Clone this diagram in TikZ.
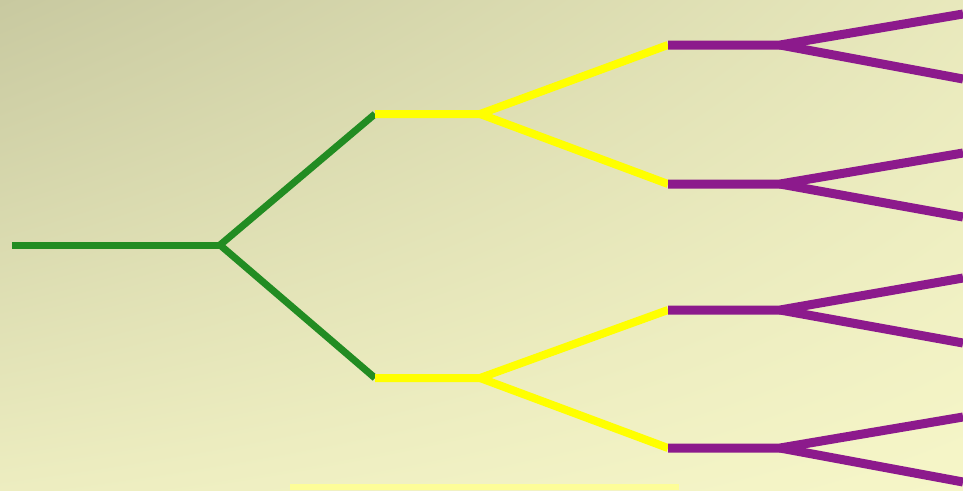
\documentclass[tikz,border=0pt]{standalone}
\usetikzlibrary{calc,shadings}
\definecolor{bgdark}{RGB}{200,201,160}
\definecolor{bglight}{RGB}{246,246,200}
\definecolor{trunkgreen}{RGB}{34,140,34}
\definecolor{boughyellow}{RGB}{255,255,0}
\definecolor{twigpurple}{RGB}{140,26,140}
\definecolor{barpale}{RGB}{253,253,152}
\tikzset{
  trunk/.style={draw=trunkgreen, line width=7pt},
  bough/.style={draw=boughyellow, line width=8pt},
  twig/.style={draw=twigpurple, line width=9pt},
}
\begin{document}
\begin{tikzpicture}[x=1pt,y=-1pt]
% background with diagonal light gradient
\shade[upper left=bgdark, lower right=bglight, upper right=bglight!70!bgdark, lower left=bglight!80!bgdark]
  (0,0) rectangle (963,490);
\useasboundingbox (0,0) rectangle (963,490);

% level 0: root stem and first fork
\coordinate (root) at (12,245);
\coordinate (f0) at (220,245);
\coordinate (a) at (375,114);
\coordinate (b) at (375,378);

% level 1: yellow stems and forks
\coordinate (fa) at (480,114);
\coordinate (fb) at (480,378);
\coordinate (a1) at (668,45);
\coordinate (a2) at (668,184);
\coordinate (b1) at (668,310);
\coordinate (b2) at (668,448);

% level 2: purple stems, forks and tips
\foreach \n/\y/\u/\l in {a1/45/14/79, a2/184/153/217, b1/310/278/343, b2/448/417/482}{
  \coordinate (\n f) at (780,\y);
  \coordinate (\n u) at (963,\u);
  \coordinate (\n l) at (963,\l);
}

\draw[trunk] (root) -- (f0);
\draw[trunk] (f0) -- (a);
\draw[trunk] (f0) -- (b);

\draw[bough] (a) -- (fa) -- (a1);
\draw[bough] (fa) -- (a2);
\draw[bough] (b) -- (fb) -- (b1);
\draw[bough] (fb) -- (b2);

\foreach \n in {a1,a2,b1,b2}{
  \draw[twig] (\n) -- (\n f) -- (\n u);
  \draw[twig] (\n f) -- (\n l);
}

% pale bar along the bottom edge
\fill[barpale] (290,484) rectangle (679,490);
\end{tikzpicture}
\end{document}
